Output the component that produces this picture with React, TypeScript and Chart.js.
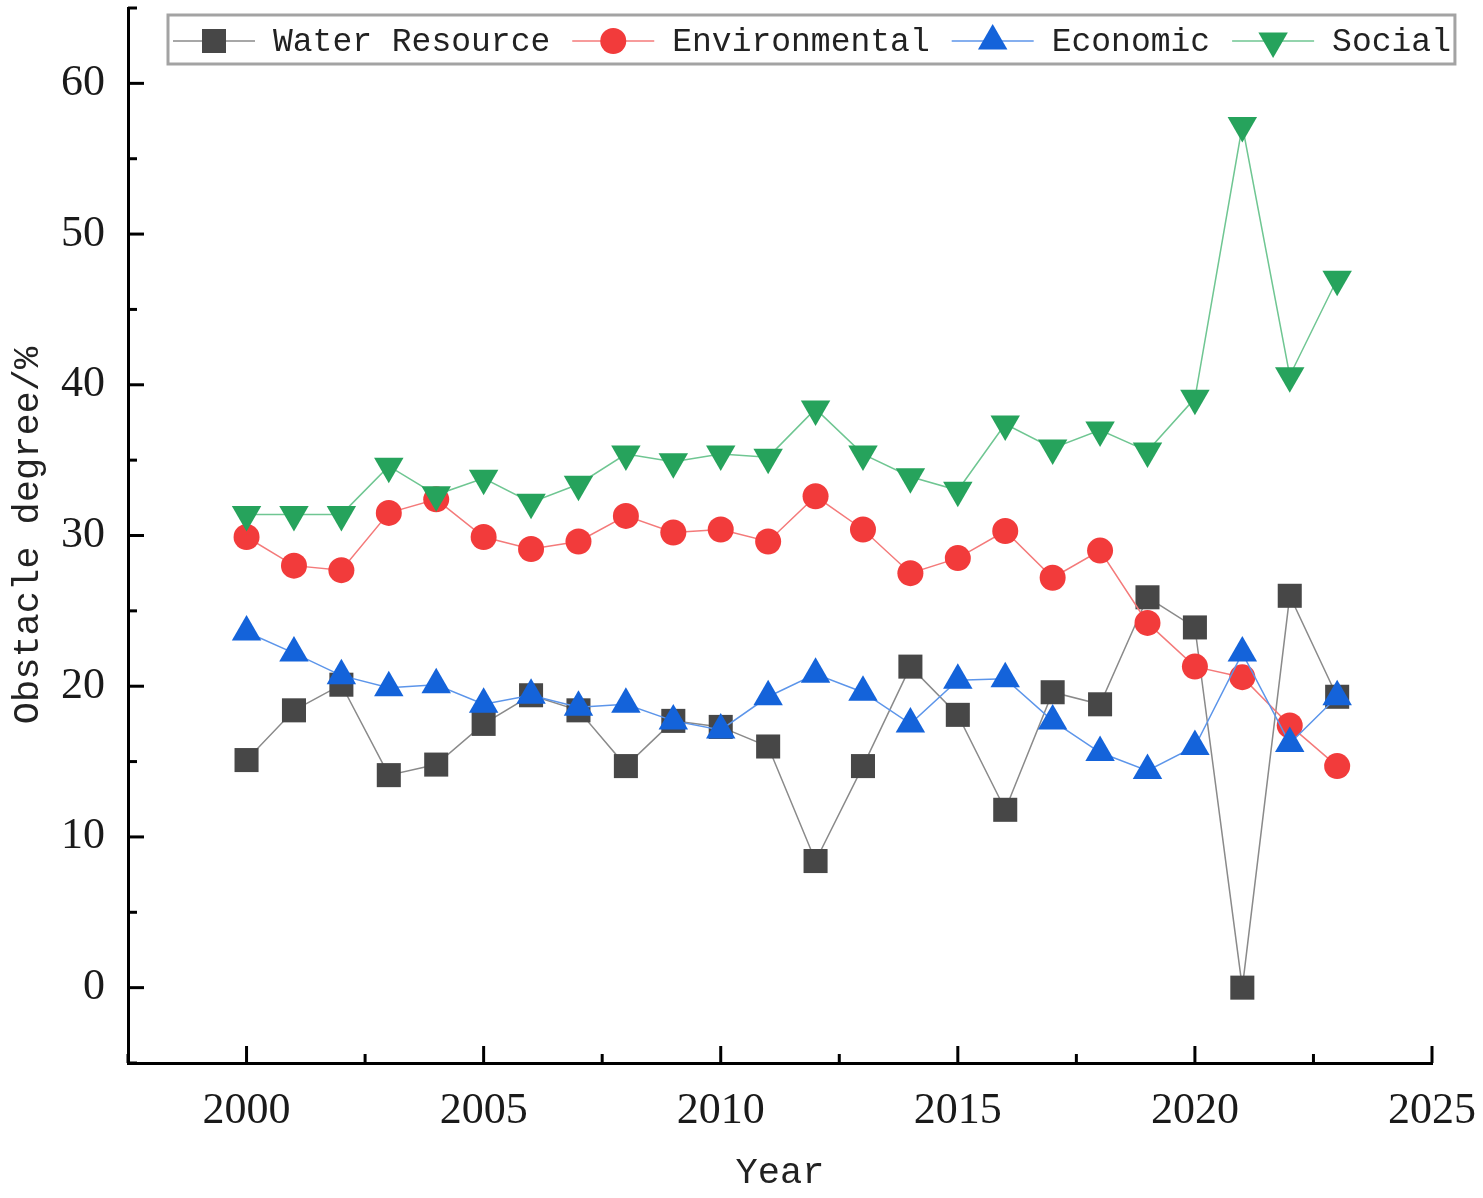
import { useEffect, useRef } from "react";
import { Chart, registerables } from "chart.js";
import { drawPoint } from "chart.js/helpers";

Chart.register(...registerables);

// Obstacle degree (%) per subsystem
const years = [
  2000, 2001, 2002, 2003, 2004, 2005, 2006, 2007, 2008, 2009, 2010, 2011,
  2012, 2013, 2014, 2015, 2016, 2017, 2018, 2019, 2020, 2021, 2022, 2023,
];
const waterResource = [
  15.1, 18.4, 20.1, 14.1, 14.8, 17.5, 19.4, 18.4, 14.7, 17.7, 17.3, 16.0,
  8.4, 14.7, 21.3, 18.1, 11.8, 19.6, 18.8, 25.9, 23.9, 0.0, 26.0, 19.3,
];
const environmental = [
  29.9, 28.0, 27.7, 31.5, 32.4, 29.9, 29.1, 29.6, 31.3, 30.2, 30.4, 29.6,
  32.6, 30.4, 27.5, 28.5, 30.3, 27.2, 29.0, 24.2, 21.3, 20.6, 17.4, 14.7,
];
const economic = [
  23.6, 22.2, 20.7, 19.9, 20.1, 18.8, 19.4, 18.6, 18.8, 17.7, 17.1, 19.3,
  20.8, 19.6, 17.5, 20.4, 20.5, 17.7, 15.6, 14.4, 16.0, 22.2, 16.2, 19.3,
];
const social = [
  31.4, 31.4, 31.4, 34.6, 32.7, 33.8, 32.2, 33.4, 35.4, 34.9, 35.4, 35.2,
  38.4, 35.4, 33.9, 33.0, 37.4, 35.8, 37.0, 35.6, 39.1, 57.2, 40.6, 47.0,
];

const xMajorTicks = [2000, 2005, 2010, 2015, 2020, 2025];
const xMinorTicks = [1997.5, 2002.5, 2007.5, 2012.5, 2017.5, 2022.5];
const yMajorTicks = [0, 10, 20, 30, 40, 50, 60];
const yMinorTicks = [-5, 5, 15, 25, 35, 45, 55, 65];

const seriesNames = ["Water Resource", "Environmental", "Economic", "Social"];

const monoFont = "'Liberation Mono', 'DejaVu Sans Mono', monospace";
const serifFont = "'Liberation Serif', 'DejaVu Serif', serif";

// inward tick marks, major and minor
const axisTicksPlugin = {
  id: "axisTicks",
  afterDraw(chart: any) {
    const { ctx, chartArea, scales } = chart;
    ctx.save();
    ctx.strokeStyle = "#000";
    ctx.lineWidth = 3;
    const tick = (x1: number, y1: number, x2: number, y2: number) => {
      ctx.beginPath();
      ctx.moveTo(x1, y1);
      ctx.lineTo(x2, y2);
      ctx.stroke();
    };
    xMajorTicks.forEach((v) => {
      const px = scales.x.getPixelForValue(v);
      tick(px, chartArea.bottom, px, chartArea.bottom - 17);
    });
    xMinorTicks.forEach((v) => {
      const px = scales.x.getPixelForValue(v);
      tick(px, chartArea.bottom, px, chartArea.bottom - 9);
    });
    yMajorTicks.forEach((v) => {
      const py = scales.y.getPixelForValue(v);
      tick(chartArea.left, py, chartArea.left + 16, py);
    });
    yMinorTicks.forEach((v) => {
      const py = scales.y.getPixelForValue(v);
      tick(chartArea.left, py, chartArea.left + 9, py);
    });
    ctx.restore();
  },
};

// legend drawn inside the plot, in a framed box
const boxLegendPlugin = {
  id: "boxLegend",
  afterDraw(chart: any) {
    const { ctx } = chart;
    const datasets = chart.data.datasets;
    const top = 15;
    const bottom = 64;
    const midY = 41;
    ctx.save();
    ctx.font = `33px ${monoFont}`;
    ctx.textBaseline = "middle";

    let x = 173;
    const items = datasets.map((ds: any) => {
      const w = ctx.measureText(ds.label).width;
      const item = { ds, x, w };
      x += 82 + 18 + w + 22;
      return item;
    });
    const right = x - 22 + 4;

    ctx.fillStyle = "#fff";
    ctx.fillRect(168, top, right - 168, bottom - top);
    ctx.strokeStyle = "#a3a3a3";
    ctx.lineWidth = 3;
    ctx.strokeRect(168, top, right - 168, bottom - top);

    items.forEach(({ ds, x: ix }: any) => {
      ctx.strokeStyle = ds.borderColor;
      ctx.lineWidth = 1.5;
      ctx.beginPath();
      ctx.moveTo(ix, midY);
      ctx.lineTo(ix + 82, midY);
      ctx.stroke();
      ctx.fillStyle = ds.pointBackgroundColor;
      drawPoint(
        ctx,
        {
          pointStyle: ds.pointStyle,
          rotation: ds.pointRotation || 0,
          radius: ds.pointRadius,
          borderWidth: 0,
        },
        ix + 41,
        midY
      );
      ctx.fillStyle = "#222";
      ctx.textAlign = "left";
      ctx.fillText(ds.label, ix + 100, midY + 1);
    });
    ctx.restore();
  },
};

function toPoints(values: number[]) {
  return values.map((y, i) => ({ x: years[i], y }));
}

export default function App() {
  const canvasRef = useRef<HTMLCanvasElement>(null);
  const chartRef = useRef<Chart | null>(null);

  useEffect(() => {
    document.body.style.margin = "0";
    if (!canvasRef.current) return;
    if (chartRef.current) chartRef.current.destroy();

    chartRef.current = new Chart(canvasRef.current, {
      type: "line",
      data: {
        datasets: [
          {
            label: seriesNames[0],
            data: toPoints(waterResource),
            borderColor: "#8a8a8a",
            borderWidth: 1.5,
            pointStyle: "rect",
            pointRadius: 17,
            pointBackgroundColor: "#474747",
            pointBorderWidth: 0,
            order: 4,
          },
          {
            label: seriesNames[1],
            data: toPoints(environmental),
            borderColor: "#f47a7a",
            borderWidth: 1.5,
            pointStyle: "circle",
            pointRadius: 13,
            pointBackgroundColor: "#f23b3b",
            pointBorderWidth: 0,
            order: 3,
          },
          {
            label: seriesNames[2],
            data: toPoints(economic),
            borderColor: "#5c95ea",
            borderWidth: 1.5,
            pointStyle: "triangle",
            pointRadius: 17,
            pointBackgroundColor: "#1463da",
            pointBorderWidth: 0,
            order: 2,
          },
          {
            label: seriesNames[3],
            data: toPoints(social),
            borderColor: "#6fc692",
            borderWidth: 1.5,
            pointStyle: "triangle",
            pointRotation: 180,
            pointRadius: 17,
            pointBackgroundColor: "#26a35c",
            pointBorderWidth: 0,
            order: 1,
          },
        ] as any,
      },
      options: {
        responsive: true,
        maintainAspectRatio: false,
        animation: false,
        layout: {
          autoPadding: false,
          padding: { left: 0, right: 51, top: 8, bottom: 0 },
        },
        plugins: {
          legend: { display: false },
          tooltip: { enabled: false },
        },
        scales: {
          x: {
            type: "linear",
            min: 1997.5,
            max: 2025,
            afterBuildTicks: (scale: any) => {
              scale.ticks = xMajorTicks.map((value) => ({ value }));
            },
            afterFit: (scale: any) => {
              scale.height = 135;
              scale.paddingLeft = 0;
              scale.paddingRight = 0;
            },
            ticks: {
              padding: 22,
              color: "#1a1a1a",
              font: { family: serifFont, size: 44 },
              callback: (v: any) => String(v),
              maxRotation: 0,
            },
            grid: { drawOnChartArea: false, drawTicks: false },
            border: { color: "#000", width: 3 },
            title: {
              display: true,
              text: "Year",
              color: "#222",
              font: { family: monoFont, size: 37 },
              padding: { top: 0, bottom: 3 },
            },
          },
          y: {
            type: "linear",
            min: -5,
            max: 65,
            afterBuildTicks: (scale: any) => {
              scale.ticks = yMajorTicks.map((value) => ({ value }));
            },
            afterFit: (scale: any) => {
              scale.width = 128;
              scale.paddingTop = 0;
              scale.paddingBottom = 0;
            },
            ticks: {
              padding: 23,
              color: "#1a1a1a",
              font: { family: serifFont, size: 44 },
            },
            grid: { drawOnChartArea: false, drawTicks: false },
            border: { color: "#000", width: 3 },
            title: {
              display: true,
              text: "Obstacle degree/%",
              color: "#222",
              font: { family: monoFont, size: 37 },
              padding: { top: 6, bottom: 0 },
            },
          },
        },
      },
      plugins: [axisTicksPlugin, boxLegendPlugin],
    });

    return () => {
      if (chartRef.current) {
        chartRef.current.destroy();
        chartRef.current = null;
      }
    };
  }, []);

  return (
    <div style={{ width: 1483, height: 1198, position: "relative" }}>
      <canvas ref={canvasRef}></canvas>
    </div>
  );
}
